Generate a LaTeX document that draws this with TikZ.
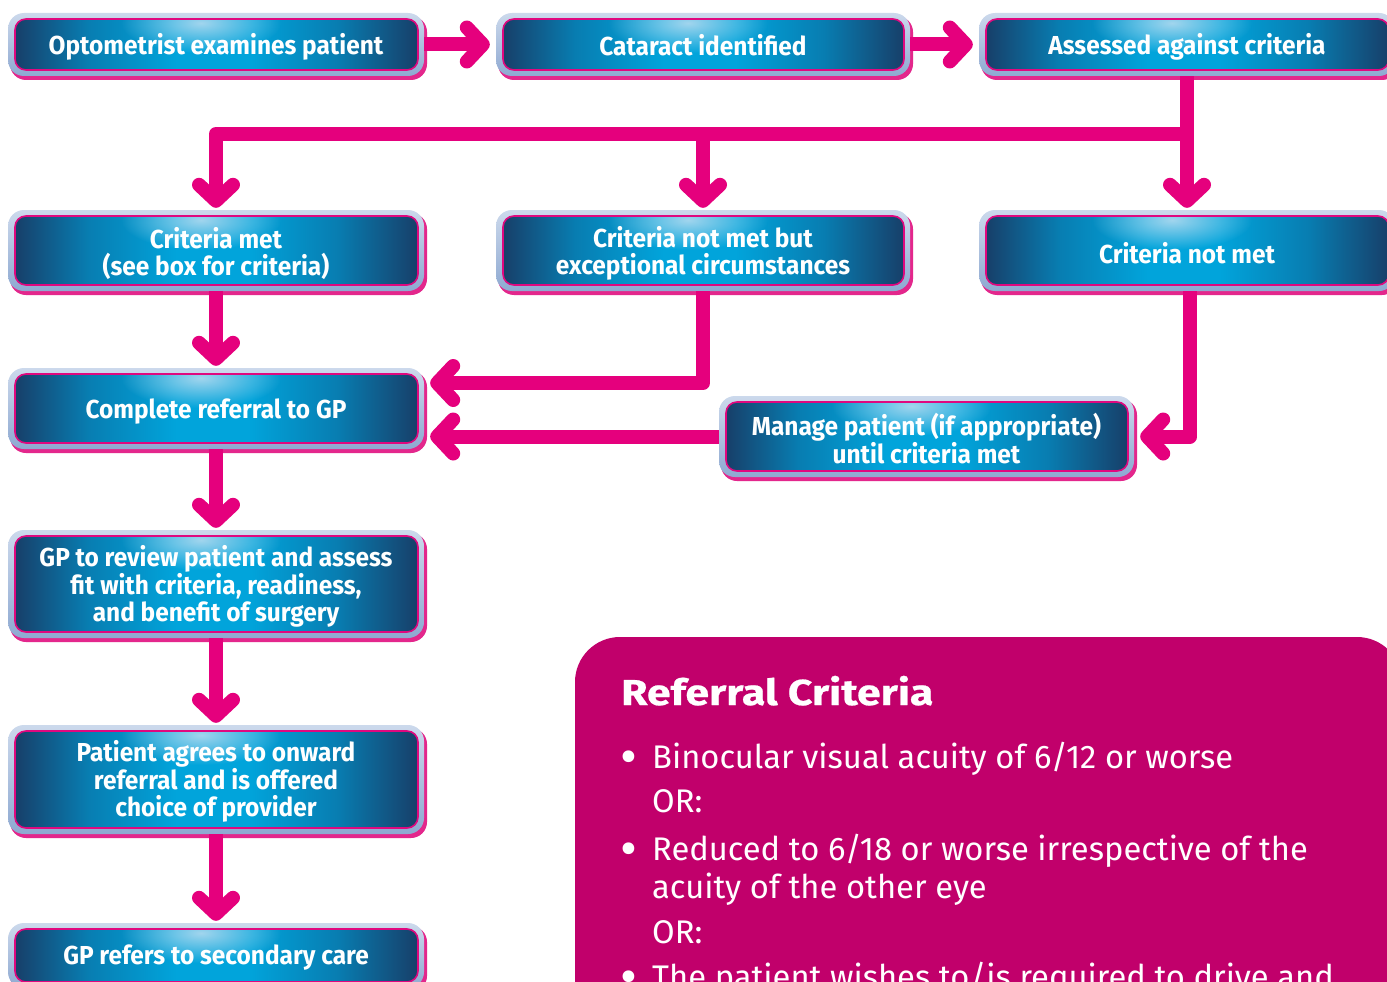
\documentclass[tikz,border=0pt]{standalone}
\usepackage{fontspec}
\setmainfont{Fira Sans}
\newfontfamily\boxfont{Fira Sans}[FakeStretch=0.94]
\newfontfamily\critfont{Fira Sans}
\newfontfamily\titlefont{Fira Sans}[FakeStretch=1.19, FakeBold=0.6]
\usetikzlibrary{calc,fadings}
\definecolor{arrowpink}{HTML}{E5007D}
\definecolor{linepink}{HTML}{E0087F}
\definecolor{shadowpink}{HTML}{E3278C}
\definecolor{critpink}{HTML}{C1006B}
\definecolor{bdark}{HTML}{173F69}
\definecolor{bmid}{HTML}{087DB1}
\definecolor{bcyan}{HTML}{01A4DB}
\definecolor{glow}{HTML}{AAD8EF}
\definecolor{frameTop}{HTML}{CCD9EC}
\definecolor{frameBot}{HTML}{8EA9D1}
\pgfdeclarehorizontalshading{boxshade}{100bp}{color(0bp)=(bdark); color(25bp)=(bdark); color(34bp)=(bmid); color(45bp)=(bcyan); color(54bp)=(bcyan); color(65bp)=(bmid); color(75bp)=(bdark); color(100bp)=(bdark)}
\tikzfading[name=glowfade, inner color=transparent!5, outer color=transparent!100]
\tikzset{
  conn/.style={draw=arrowpink, line width=14pt, line join=round},
  chev/.style={draw=arrowpink, line width=14pt, line cap=round, line join=round},
  chevD/.pic={\draw[chev] (-17,-16) -- (0,0) -- (17,-16);},
  chevL/.pic={\draw[chev] (16,-17) -- (0,0) -- (16,17);},
  chevR/.pic={\draw[chev] (-16,-17) -- (0,0) -- (-16,17);},
  boxtxt/.style={text=white, align=center, inner sep=0pt,
    font=\boxfont\bfseries\fontsize{26}{26.5}\selectfont},
  crit/.style={text=white, inner sep=0pt, anchor=base west,
    font=\critfont\fontsize{32.7}{38}\selectfont},
  bullet/.style={text=white, inner sep=0pt, anchor=base west,
    font=\critfont\fontsize{52}{52}\selectfont},
}
% name, x1, y1, x2, y2, text, text shift
\newcommand{\gbox}[7]{%
  \fill[shadowpink, rounded corners=16pt] (#2+2,#3+3) rectangle (#4+3,#5+4);
  \shade[top color=frameTop, bottom color=frameBot, rounded corners=16pt] (#2,#3) rectangle (#4,#5);
  \begin{scope}
    \clip[rounded corners=11pt] (#2+7,#3+6) rectangle (#4-6,#5-6);
    \shade[shading=boxshade] (#2+7,#3+6) rectangle (#4-6,#5-6);
    \fill[glow, path fading=glowfade] ({(#2+#4)/2-15},#3+10) ellipse [x radius=80pt, y radius=30pt];
  \end{scope}
  \draw[linepink, line width=1.6pt, rounded corners=11pt] (#2+7,#3+6) rectangle (#4-6,#5-6);
  \node[boxtxt, minimum width={(#4-#2)*1pt}, minimum height={(#5-#3)*1pt}] (#1) at ({(#2+#4)/2},{(#3+#5)/2}) {};
  \node[boxtxt] at ($(#1.center)+(0,#7)$) {#6};
}
\begin{document}
\begin{tikzpicture}[x=1pt, y=-1pt]
\useasboundingbox (0,0) rectangle (1387,982);
\clip (0,0) rectangle (1387,982);
\fill[white] (0,0) rectangle (1387,982);

% criteria panel
\fill[critpink, rounded corners=45pt] (575,637) rectangle (1402,1100);
\node[text=white, inner sep=0pt, anchor=base west, font=\titlefont\bfseries\fontsize{36}{40}\selectfont] (title) at (621,705) {Referral Criteria};
\node[bullet] (d1) at (620,774) {•};
\node[crit] (c1) at (652,768) {Binocular visual acuity of 6/12 or worse};
\node[crit] (c2) at (652,812) {OR:};
\node[bullet] (d2) at (620,866) {•};
\node[crit] (c3) at (652,860) {Reduced to 6/18 or worse irrespective of the};
\node[crit] (c4) at (652,898) {acuity of the other eye};
\node[crit] (c5) at (652,943) {OR:};
\node[bullet] (d3) at (620,994) {•};
\node[crit] (c6) at (652,988) {The patient wishes to/is required to drive and};

% boxes
\gbox{b1}{8}{13}{424}{76}{Optometrist examines patient}{2.5}
\gbox{b2}{496}{13}{910}{76}{Cataract identified}{0.5}
\gbox{b3}{979}{13}{1395}{76}{Assessed against criteria}{2.5}
\gbox{b4}{8}{210}{424}{291}{Criteria met\\(see box for criteria)}{3}
\gbox{b5}{496}{210}{910}{291}{Criteria not met but\\exceptional circumstances}{3}
\gbox{b6}{979}{210}{1395}{291}{Criteria not met}{3}
\gbox{b7}{8}{368}{424}{449}{Complete referral to GP}{3}
\gbox{mg}{719}{396}{1134}{477}{Manage patient (if appropriate)\\until criteria met}{2}
\gbox{b8}{8}{530}{424}{638}{GP to review patient and assess\\fit with criteria, readiness,\\and benefit of surgery}{2.5}
\gbox{b9}{8}{725}{424}{834}{Patient agrees to onward\\referral and is offered\\choice of provider}{2}
\gbox{b10}{8}{923}{424}{988}{GP refers to secondary care}{2.5}

% connectors
\coordinate (bar) at (0,134);
\coordinate (j1) at (0,383);
\draw[conn] (b1.east) -- ($(b2.west)+(-13,0)$);
\pic at ($(b2.west)+(-13,0)$) {chevR};
\draw[conn] (b2.east) -- ($(b3.west)+(-13,0)$);
\pic at ($(b3.west)+(-13,0)$) {chevR};
\draw[conn] (b3.south) -- (b3.south |- bar) -- (b4.north |- bar) -- ($(b4.north)+(0,-9)$);
\pic at ($(b4.north)+(0,-9)$) {chevD};
\draw[conn] (b5.north |- bar) -- ($(b5.north)+(0,-9)$);
\pic at ($(b5.north)+(0,-9)$) {chevD};
\draw[conn] (b3.south |- bar) -- ($(b6.north)+(0,-9)$);
\pic at ($(b6.north)+(0,-9)$) {chevD};
\draw[conn] (b4.south) -- ($(b7.north)+(0,-9)$);
\pic at ($(b7.north)+(0,-9)$) {chevD};
\draw[conn] (b5.south) -- (b5.south |- j1) -- ($(b7.east |- j1)+(13,0)$);
\pic at ($(b7.east |- j1)+(13,0)$) {chevL};
\draw[conn] ($(b6.south)+(3,0)$) |- ($(mg.east)+(13,0)$);
\pic at ($(mg.east)+(13,0)$) {chevL};
\draw[conn] (mg.west) -- ($(b7.east |- mg.west)+(13,0)$);
\pic at ($(b7.east |- mg.west)+(13,0)$) {chevL};
\draw[conn] (b7.south) -- ($(b8.north)+(0,-9)$);
\pic at ($(b8.north)+(0,-9)$) {chevD};
\draw[conn] (b8.south) -- ($(b9.north)+(0,-9)$);
\pic at ($(b9.north)+(0,-9)$) {chevD};
\draw[conn] (b9.south) -- ($(b10.north)+(0,-9)$);
\pic at ($(b10.north)+(0,-9)$) {chevD};
\end{tikzpicture}
\end{document}
